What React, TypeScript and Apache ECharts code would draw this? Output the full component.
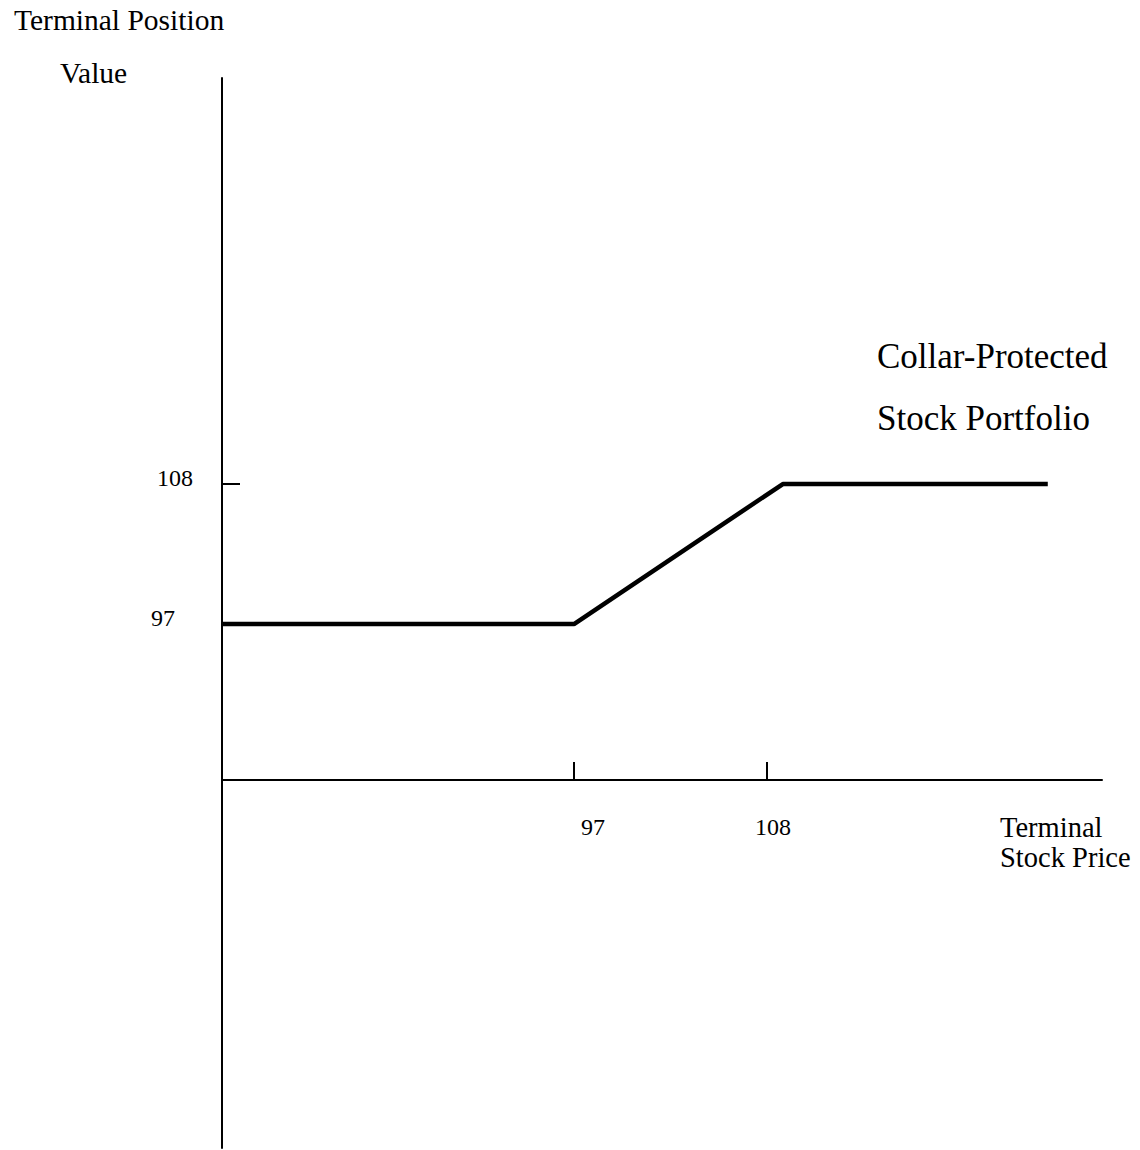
import React, { useEffect, useRef } from "react";
import * as echarts from "echarts";

// Data
const xTickValues = [97, 108];
const yTickValues = [97, 108];
const payoffX = [76.94, 97, 108.9, 124.0];
const payoffY = [97, 97, 108, 108];
const xRange = [76.94, 127.09];
const yRange = [55.83, 139.9];
const xAxisAtY = 84.74; // value of the y axis where the x axis crosses (layout via offset)

const FONT = "Liberation Serif";

export default function App() {
  const ref = useRef<HTMLDivElement>(null);

  useEffect(() => {
    document.body.style.margin = "0";
    const chart = echarts.init(ref.current!, null, { renderer: "svg" });
    const gridTop = 78;
    const gridBottom = 2;
    const gridHeight = 1150 - gridTop - gridBottom;
    const axisPixelFromBottom =
      ((xAxisAtY - yRange[0]) / (yRange[1] - yRange[0])) * gridHeight;

    chart.setOption({
      animation: false,
      backgroundColor: "#ffffff",
      textStyle: { fontFamily: FONT, color: "#000" },
      grid: {
        left: 222,
        right: 38,
        top: gridTop,
        bottom: gridBottom,
        outerBoundsMode: "none",
        containLabel: false,
      },
      xAxis: {
        type: "value",
        min: xRange[0],
        max: xRange[1],
        position: "bottom",
        offset: -axisPixelFromBottom,
        splitLine: { show: false },
        axisLine: { show: true, onZero: false, lineStyle: { color: "#000", width: 2 } },
        axisTick: {
          show: true,
          inside: true,
          length: 18,
          customValues: xTickValues,
          lineStyle: { color: "#000", width: 2 },
        },
        axisLabel: {
          show: true,
          customValues: xTickValues,
          margin: 35,
          fontSize: 24,
          fontFamily: FONT,
          color: "#000",
          formatter: (v: number) => (v === 97 ? "{a|97}" : "{b|" + v + "}"),
          rich: {
            a: { fontSize: 24, fontFamily: FONT, color: "#000", padding: [0, 0, 0, 38] },
            b: { fontSize: 24, fontFamily: FONT, color: "#000", padding: [0, 0, 0, 12] },
          },
        },
      },
      yAxis: {
        type: "value",
        min: yRange[0],
        max: yRange[1],
        position: "left",
        splitLine: { show: false },
        axisLine: { show: true, onZero: false, lineStyle: { color: "#000", width: 2 } },
        axisTick: {
          show: true,
          inside: true,
          length: 18,
          customValues: yTickValues,
          lineStyle: { color: "#000", width: 2 },
        },
        axisLabel: {
          show: true,
          customValues: yTickValues,
          margin: 29,
          fontSize: 24,
          fontFamily: FONT,
          color: "#000",
          formatter: (v: number) => (v === 97 ? "{a|97}" : "{b|" + v + "}"),
          rich: {
            a: { fontSize: 24, fontFamily: FONT, color: "#000", padding: [0, 18, 13, 0] },
            b: { fontSize: 24, fontFamily: FONT, color: "#000", padding: [0, 0, 13, 0] },
          },
        },
      },
      graphic: [
        {
          type: "text",
          left: 14,
          top: 5,
          style: { text: "Terminal Position", font: `29.5px "${FONT}"`, fill: "#000" },
        },
        {
          type: "text",
          left: 60,
          top: 58,
          style: { text: "Value", font: `29.5px "${FONT}"`, fill: "#000" },
        },
        {
          type: "text",
          left: 877,
          top: 339,
          style: { text: "Collar-Protected", font: `35px "${FONT}"`, fill: "#000" },
        },
        {
          type: "text",
          left: 877,
          top: 401,
          style: { text: "Stock Portfolio", font: `35px "${FONT}"`, fill: "#000" },
        },
        {
          type: "text",
          left: 1000,
          top: 813,
          style: { text: "Terminal", font: `28.5px "${FONT}"`, fill: "#000" },
        },
        {
          type: "text",
          left: 1000,
          top: 843,
          style: { text: "Stock Price", font: `28.5px "${FONT}"`, fill: "#000" },
        },
      ],
      series: [
        {
          type: "line",
          data: payoffX.map((x, i) => [x, payoffY[i]]),
          symbol: "none",
          silent: true,
          clip: false,
          lineStyle: { color: "#000", width: 4.5 },
        },
      ],
    });
    return () => chart.dispose();
  }, []);

  return <div ref={ref} style={{ width: 1140, height: 1150 }} />;
}
